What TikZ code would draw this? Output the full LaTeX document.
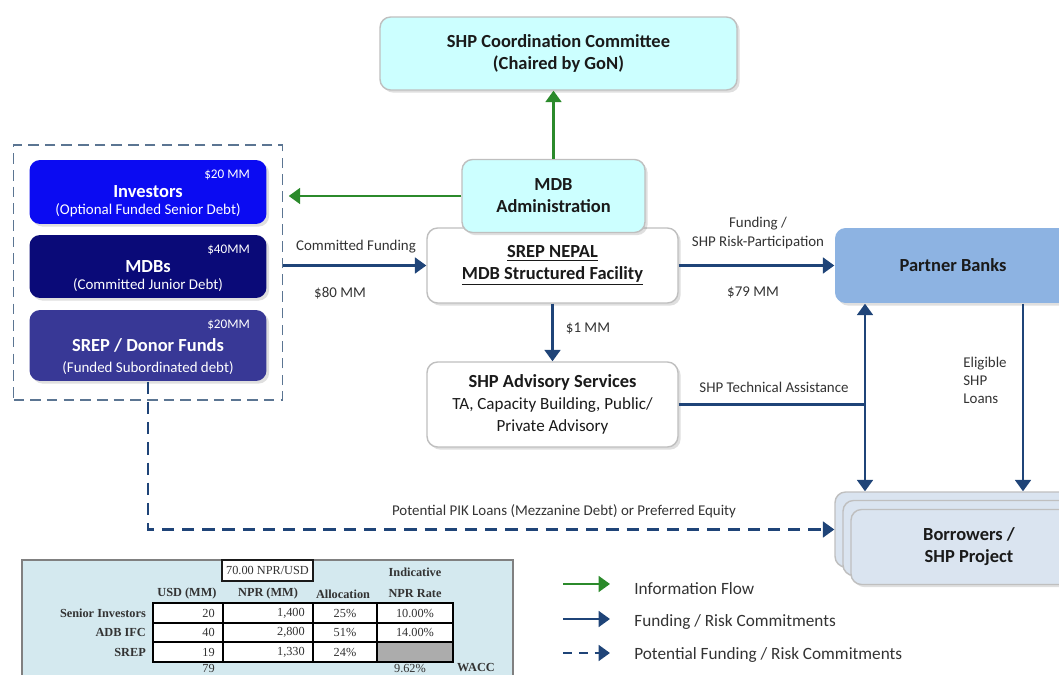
\documentclass[tikz,border=0pt]{standalone}
\usepackage{fontspec}
\setmainfont{Carlito}
\newfontfamily\tabfont{Liberation Serif}
\usetikzlibrary{arrows.meta,shadows}

\definecolor{boxgray}{HTML}{BFBFBF}
\definecolor{cyanfill}{HTML}{CCFFFF}
\definecolor{invblue}{HTML}{0B0BF2}
\definecolor{mdbnavy}{HTML}{0A0A78}
\definecolor{srepblue}{HTML}{383896}
\definecolor{bankblue}{HTML}{8DB3E2}
\definecolor{borfill}{HTML}{DAE4F0}
\definecolor{tabfill}{HTML}{D4E9EF}
\definecolor{fundblue}{HTML}{1F4478}
\definecolor{infogreen}{HTML}{2B8A2B}
\definecolor{poolgray}{HTML}{5B7592}
\definecolor{txt}{HTML}{1A1A1A}
\definecolor{lbltxt}{HTML}{333333}

\begin{document}
\begin{tikzpicture}[x=0.02cm,y=-0.02cm]
      \tikzset{box/.style={draw=boxgray, line width=0.8pt,
          rounded corners=6pt,
          fill=#1, text=txt,
          align=center, inner sep=0pt,
          font=\fontsize{10.5}{12.6}\selectfont\bfseries,
          drop shadow={opacity=0.25, shadow xshift=1.5pt, shadow yshift=-1.5pt}},
        fundbox/.style={box=#1, draw=none, text=white,
          minimum width=4.74cm},
        amount/.style={font=\fontsize{7.5}{9}\selectfont, text=white,
          inner sep=0pt, anchor=north east, xshift=-0.34cm, yshift=-0.2cm},
        note/.style={font=\fontsize{8.5}{10}\selectfont, text=white,
          inner sep=0pt, anchor=south, yshift=0.14cm},
        lbl/.style={font=\fontsize{8.5}{11.3}\selectfont, text=lbltxt,
          align=center, inner sep=0pt},
        info/.style={draw=infogreen, line width=1.4pt,
          -{Triangle[width=9pt,length=6.5pt]}},
        fund/.style={draw=fundblue, line width=1.4pt,
          -{Triangle[width=9pt,length=6.5pt]}},
        potential/.style={fund, dash pattern=on 7pt off 4.5pt}
      }
      \useasboundingbox (0,0) rectangle (1059,675);

      % funding pool on the left
      \node [draw=poolgray, line width=1.1pt, dash pattern=on 6pt off 3.5pt,
        minimum width=5.38cm, minimum height=5.1cm] (pool) at (148,272.5) {};
      \node [fundbox=invblue, minimum height=1.28cm,
        label={[amount]north east:\$20 MM},
        label={[note]south:(Optional Funded Senior Debt)}] (inv) at (148,192) {Investors};
      \node [fundbox=mdbnavy, minimum height=1.26cm,
        label={[amount]north east:\$40MM},
        label={[note]south:(Committed Junior Debt)}] (mdb) at (148,266.5) {MDBs};
      \node [fundbox=srepblue, minimum height=1.42cm,
        label={[amount]north east:\$20MM},
        label={[note]south:(Funded Subordinated debt)}] (donor) at (148,345.5) {SREP / Donor Funds};

      % facility and its neighbours
      \node [box=cyanfill, minimum width=7.14cm, minimum height=1.46cm] (comm) at (558.5,53.5)
        {SHP Coordination Committee\\(Chaired by GoN)};
      \node [box=white, minimum width=5.02cm, minimum height=1.5cm] (srep) at (552.5,265.5)
        {\underline{SREP NEPAL}\\\underline{MDB Structured Facility}};
      \node [box=cyanfill, minimum width=3.66cm, minimum height=1.46cm] (admin) at (553.5,196)
        {MDB\\Administration};
      \node [box=white, minimum width=5.02cm, minimum height=1.7cm] (adv) at (552.5,404.5)
        {SHP Advisory Services\\\fontsize{9.7}{12.3}\selectfont\mdseries TA, Capacity Building, Public/\\
         \fontsize{9.7}{12.3}\selectfont\mdseries Private Advisory};
      \node [box=bankblue, draw=none, minimum width=4.72cm, minimum height=1.5cm] (partner) at (953,265.5)
        {Partner Banks};
      \node [box=borfill, minimum width=4.72cm, minimum height=1.5cm] (bor3) at (953,529.5) {};
      \node [box=borfill, minimum width=4.72cm, minimum height=1.5cm] (bor2) at (961,538) {};
      \node [box=borfill, minimum width=4.72cm, minimum height=1.5cm] (bor) at (969,547)
        {Borrowers /\\SHP Project};

      % connectors
      \draw [info] (admin.north) -- (admin.north |- comm.south);
      \draw [info] (admin.west) -- ([xshift=3pt]admin.west -| pool.east);
      \draw [fund] (pool.east |- srep.west) -- (srep.west);
      \draw [fund] (srep.east) -- (partner.west);
      \draw [fund] (srep.south) -- (adv.north);
      \coordinate (ta) at (865,404.5);
      \coordinate (loans) at (1023,381);
      \draw [fund, -] (adv.east) -- (ta);
      \draw [fund, {Triangle[width=9pt,length=6.5pt]}-{Triangle[width=9pt,length=6.5pt]}]
        (ta |- partner.south) -- (ta |- bor3.north);
      \draw [fund] (loans |- partner.south) -- (loans |- bor3.north);
      \draw [potential] (donor.south) |- (bor3.west);

      % connector labels
      \node [lbl] (lcf) at (356,247) {Committed Funding};
      \node [lbl] (l80) at (340,293) {\$80 MM};
      \node [lbl] (lrisk) at (758,233) {Funding /\\SHP Risk-Participation};
      \node [lbl] (l79) at (753,292) {\$79 MM};
      \node [lbl] (l1) at (588,329) {\$1 MM};
      \node [lbl] (lta) at (774,387) {SHP Technical Assistance};
      \node [lbl, align=left, anchor=west, font=\fontsize{8.5}{10.2}\selectfont] (lel) at (963,380)
        {Eligible\\SHP\\Loans};
      \node [lbl] (lpik) at (564,511) {Potential PIK Loans (Mezzanine Debt) or Preferred Equity};

      % legend
      \coordinate (leg1) at (563,584);
      \coordinate (leg2) at (563,619);
      \coordinate (leg3) at (563,653);
      \draw [info] (leg1) -- ++(47,0);
      \draw [fund] (leg2) -- ++(47,0);
      \draw [potential, dash pattern=on 5pt off 4pt] (leg3) -- ++(47,0);
      \node [lbl, font=\fontsize{9.8}{12}\selectfont, anchor=west] (legt1) at (634,589) {Information Flow};
      \node [lbl, font=\fontsize{9.8}{12}\selectfont, anchor=west] (legt2) at (634,622) {Funding / Risk Commitments};
      \node [lbl, font=\fontsize{9.8}{12}\selectfont, anchor=west] (legt3) at (634,655) {Potential Funding / Risk Commitments};

      % capital structure table
      \begin{scope}[font=\tabfont\fontsize{7}{8}\selectfont, text=lbltxt]
        \draw [draw=gray, fill=tabfill, line width=0.8pt] (22,560) rectangle (513,700);
        \node [draw=txt, fill=white, line width=0.6pt, inner sep=0pt,
          minimum width=1.82cm, minimum height=0.42cm] (fx) at (267.5,570.5) {70.00 NPR/USD};
        \node [font=\tabfont\fontsize{7}{8}\selectfont\bfseries] (hind) at (415,572) {Indicative};
        \foreach \x/\h in {187/USD (MM), 268/NPR (MM), 343/Allocation, 415/NPR Rate}
          \node [font=\tabfont\fontsize{7}{8}\selectfont\bfseries] at (\x,594) {\h};
        \fill [white] (153,603) rectangle (453,662);
        \fill [gray!65] (377,642) rectangle (453,662);
        \foreach \x in {223,313,377}
          \draw [line width=0.7pt] (\x,603) -- (\x,662);
        \foreach \y in {623,642}
          \draw [line width=0.7pt] (153,\y) -- (453,\y);
        \draw [line width=0.8pt] (153,603) rectangle (453,662);
        \foreach \y/\lab/\usd/\npr/\alloc/\rate in
          {613/Senior Investors/20/{1,400}/25\%/10.00\%,
           632.5/ADB IFC/40/{2,800}/51\%/14.00\%,
           652/SREP/19/{1,330}/24\%/{}} {
          \node [anchor=east, font=\tabfont\fontsize{7}{8}\selectfont\bfseries] at (152,\y) {\lab};
          \node [anchor=east] at (221,\y) {\usd};
          \node [anchor=east] at (311,\y) {\npr};
          \node at (345,\y) {\alloc};
          \node at (415,\y) {\rate};
        }
        \node [anchor=east] (tot) at (221,668) {79};
        \node (wacc) at (410,668) {9.62\%};
        \node [font=\tabfont\fontsize{7}{8}\selectfont\bfseries] (lw) at (476,668) {WACC};
      \end{scope}
\end{tikzpicture}
\end{document}
